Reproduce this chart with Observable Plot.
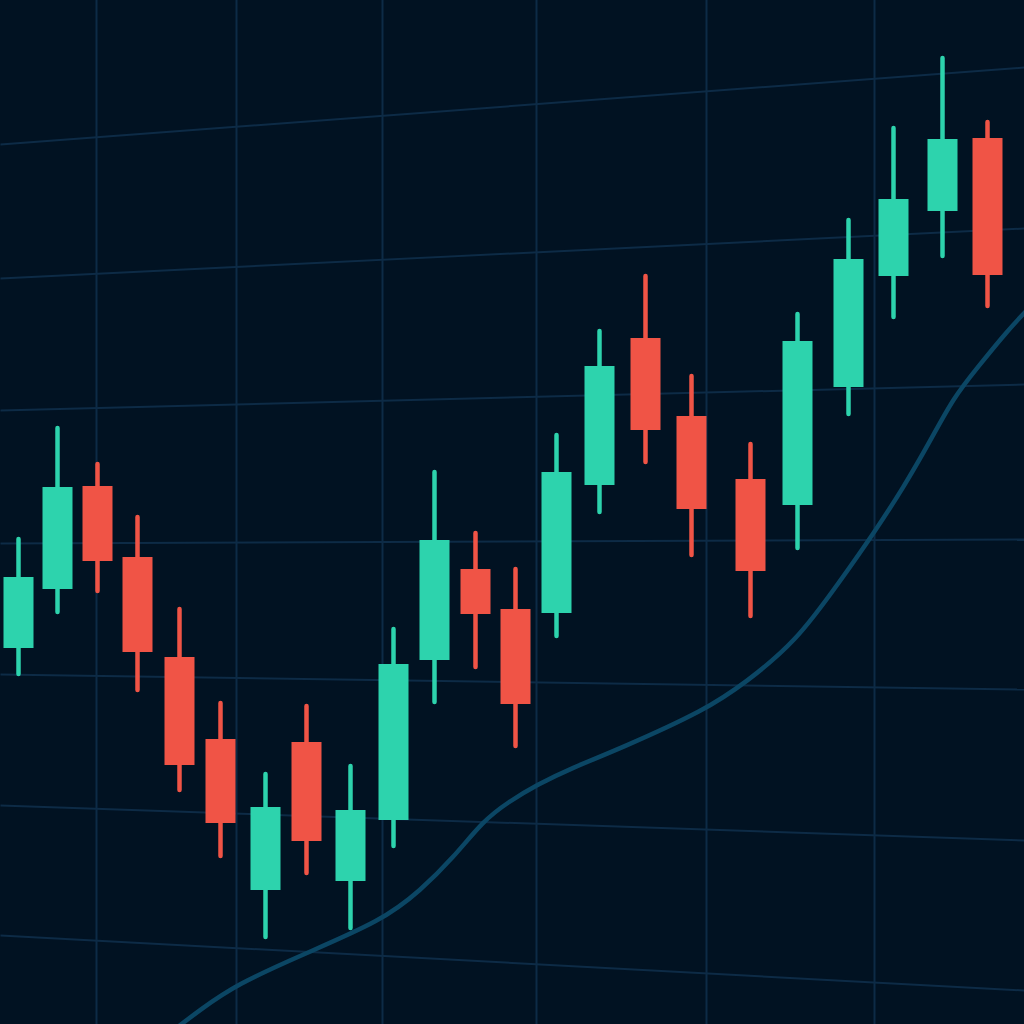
<!DOCTYPE html>
<html>
<head>
<meta charset="utf-8">
<script src="https://cdn.jsdelivr.net/npm/d3@7"></script>
<script src="https://cdn.jsdelivr.net/npm/@observablehq/plot@0.6"></script>
<style>
  html, body { margin: 0; padding: 0; background: #011222; }
  #chart { width: 1024px; height: 1024px; }
</style>
</head>
<body>
<div id="chart"></div>
<script>
// Candle time positions (session index along x)
const times  = [18, 57, 97, 137, 179, 220, 265, 306, 350, 393, 434, 475, 515, 556, 599, 645, 691, 750, 797, 848, 893, 942, 987];
const opens  = [376, 435, 538, 467, 367, 285, 134, 282, 143, 204, 364, 455, 415, 411, 539, 686, 608, 545, 519, 637, 748, 813, 886];
const closes = [447, 537, 463, 372, 259, 201, 217, 183, 214, 360, 484, 410, 320, 552, 658, 594, 515, 453, 683, 765, 825, 885, 749];
const highs  = [485, 596, 560, 507, 415, 321, 250, 318, 258, 395, 552, 491, 455, 589, 693, 748, 648, 580, 710, 804, 896, 966, 902];
const lows   = [350, 412, 433, 334, 234, 168,  87, 151,  96, 178, 322, 357, 278, 388, 512, 562, 469, 408, 476, 610, 707, 768, 718];

// Moving average curve
const maTimes  = [170, 200, 236, 300, 382, 420, 453, 483, 507, 537, 570, 620, 706, 745, 795, 840, 873, 903, 930, 953, 977, 1007, 1030];
const maValues = [-8, 15, 40, 69, 104, 134, 167, 204, 222, 240, 256, 276, 315, 342, 382, 444, 491, 537, 584, 627, 657, 694, 718];

// Grid (slightly skewed horizontal price levels: value at left edge, value at right edge)
const gridLeft  = [880, 746, 614, 481, 350, 219, 89];
const gridRight = [957, 796, 640, 485, 335, 184, 34];
const gridTimes = [96, 236, 382, 536, 706, 874];
const xDomain = [0, 1024];
const yDomain = [0, 1024];

const candles = times.map((t, i) => ({
  t, open: opens[i], close: closes[i], high: highs[i], low: lows[i],
  up: closes[i] >= opens[i]
}));
const ma = maTimes.map((t, i) => ({t, v: maValues[i]}));
const hgrid = gridLeft.map((l, i) => ({l, r: gridRight[i]}));

const GREEN = "#2dd3ad", RED = "#f05446";

const chart = Plot.plot({
  width: 1024,
  height: 1024,
  margin: 0,
  x: {domain: xDomain, axis: null},
  y: {domain: yDomain, axis: null},
  style: {background: "#011222", overflow: "hidden"},
  marks: [
    Plot.ruleX(gridTimes, {stroke: "#0d2b46", strokeWidth: 2}),
    Plot.link(hgrid, {x1: () => xDomain[0], x2: () => xDomain[1], y1: "l", y2: "r", stroke: "#0d2b46", strokeWidth: 2}),
    Plot.line(ma, {x: "t", y: "v", curve: "basis", stroke: "#0b4664", strokeWidth: 4.5}),
    Plot.ruleX(candles, {x: "t", y1: "low", y2: "high", stroke: d => d.up ? GREEN : RED, strokeWidth: 4.5, strokeLinecap: "round"}),
    Plot.ruleX(candles, {x: "t", y1: "open", y2: "close", stroke: d => d.up ? GREEN : RED, strokeWidth: 30, strokeLinecap: "butt"})
  ]
});
document.getElementById("chart").append(chart);
</script>
</body>
</html>
